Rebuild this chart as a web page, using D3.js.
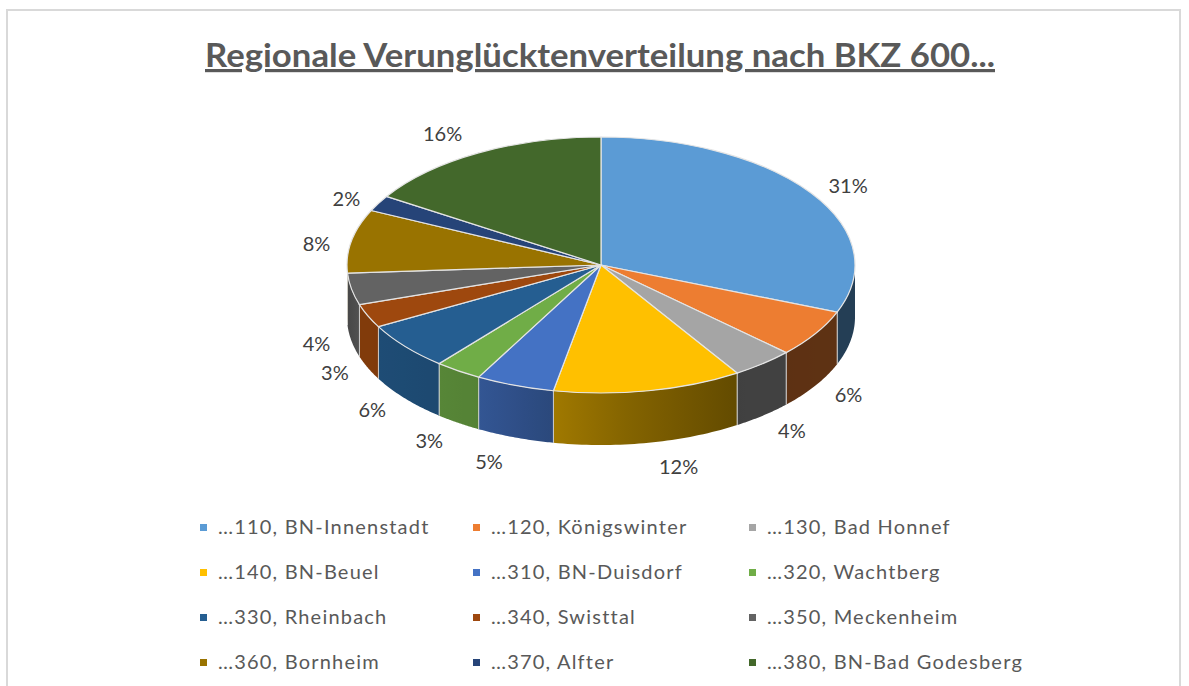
<!DOCTYPE html>
<html><head><meta charset="utf-8">
<script src="https://cdn.jsdelivr.net/npm/d3@7/dist/d3.min.js"></script>
<style>html,body{margin:0;padding:0;background:#fff}svg{display:block}text{font-family:Lato,"Open Sans",sans-serif}</style>
</head><body><svg id="c" width="1189" height="686"></svg>
<script>
const chartTitle = "Regionale Verunglücktenverteilung nach BKZ 600...";
const categories = ["...110, BN-Innenstadt","...120, Königswinter","...130, Bad Honnef","...140, BN-Beuel","...310, BN-Duisdorf","...320, Wachtberg","...330, Rheinbach","...340, Swisttal","...350, Meckenheim","...360, Bornheim","...370, Alfter","...380, BN-Bad Godesberg"];
const values = [31,6,4,12,5,3,6,3,4,8,2,16];
const colors = ["#5b9bd5","#ed7d31","#a5a5a5","#ffc000","#4472c4","#70ad47","#255e91","#9e480e","#636363","#997300","#264478","#43682b"];
// label placement relative to each slice's rim point
const labelNudge = [[37,-7],[33,61],[29,67],[30,76],[-26,76],[-29,70],[-33,63],[-33,57],[-35,55],[-35,3],[-32,-5],[-36,-19]];

const W=1189,H=686,cx=601,cy=265,rx=254,ry=128,depth=52;
const svg=d3.select("#c");
const defs=svg.append("defs");
svg.append("rect").attr("x",7).attr("y",10).attr("width",1173).attr("height",H+20).attr("fill","#fff").attr("stroke","#d9d9d9").attr("stroke-width",2);

svg.append("text").attr("x",600).attr("y",67).attr("text-anchor","middle")
  .attr("font-size",32).attr("font-weight",700).attr("fill","#595959").attr("text-decoration","underline")
  .attr("textLength",790).attr("lengthAdjust","spacingAndGlyphs").text(chartTitle);

const arcs=d3.pie().sort(null)(values);
const px=a=>cx+rx*Math.sin(a), py=a=>cy-ry*Math.cos(a);
const shade=d3.scaleLinear().domain([347,360,480,553,640,736,855]).range([.72,.82,.75,.63,.5,.39,.4]);
const lo=Math.PI/2, hi=3*Math.PI/2;
const mul=(c,k)=>{const r=d3.rgb(c);return d3.rgb(r.r*k,r.g*k,r.b*k).formatHex();};

const wallOrder=arcs.map((d,i)=>i).filter(i=>arcs[i].endAngle>lo&&arcs[i].startAngle<hi);
const wallLine=d3.line().x(d=>d[0]).y(d=>d[1]);
wallOrder.forEach(i=>{
  const d=arcs[i],a0=Math.max(d.startAngle,lo),a1=Math.min(d.endAngle,hi);
  const ts=d3.range(0,41).map(k=>a0+(a1-a0)*k/40);
  const x0=d3.min(ts,px),x1=d3.max(ts,px);
  const g=defs.append("linearGradient").attr("id","w"+i).attr("gradientUnits","userSpaceOnUse")
    .attr("x1",x0).attr("x2",x1).attr("y1",0).attr("y2",0);
  d3.range(0,6).forEach(k=>{const x=x0+(x1-x0)*k/5;
    g.append("stop").attr("offset",k/5).attr("stop-color",mul(colors[i],shade(x)));});
  const pts=ts.map(t=>[px(t),py(t)]).concat(ts.slice().reverse().map(t=>[px(t),py(t)+depth]));
  svg.append("path").attr("d",wallLine(pts)+"Z").attr("fill",`url(#w${i})`);
  [a0,a1].filter(a=>a>lo&&a<hi).forEach(a=>{
    svg.append("path").attr("d",wallLine([[px(a),py(a)],[px(a),py(a)+depth]]))
      .attr("stroke","#d8d8d8").attr("stroke-width",1).attr("stroke-opacity",.8);
  });
});

const arc=d3.arc().innerRadius(0).outerRadius(rx);
svg.append("g").attr("transform",`translate(${cx},${cy}) scale(1,${ry/rx})`)
  .selectAll("path").data(arcs).join("path").attr("d",arc).attr("fill",(d,i)=>colors[i])
  .attr("stroke","#e4e4e4").attr("stroke-width",1.2).attr("vector-effect","non-scaling-stroke");

svg.append("g").selectAll("text").data(arcs).join("text")
  .attr("x",(d,i)=>px((d.startAngle+d.endAngle)/2)+labelNudge[i][0])
  .attr("y",(d,i)=>py((d.startAngle+d.endAngle)/2)+labelNudge[i][1])
  .attr("dy","0.36em").attr("text-anchor","middle").attr("font-size",20).attr("fill","#404040")
  .text(d=>d.value+"%");

const colX=d3.scaleOrdinal().domain([0,1,2]).range([200,473,749]);
const rowY=d3.scalePoint().domain([0,1,2,3]).range([527,662]);
const leg=svg.append("g").selectAll("g").data(categories).join("g")
  .attr("transform",(d,i)=>`translate(${colX(i%3)},${rowY(Math.floor(i/3))})`);
leg.append("rect").attr("x",0).attr("y",-3).attr("width",7).attr("height",7).attr("fill",(d,i)=>colors[i]);
leg.append("text").attr("x",18).attr("dy","0.36em").attr("font-size",20).attr("letter-spacing",1.2).attr("fill","#595959")
  .text(d=>d.replace("...","…"));
</script></body></html>
